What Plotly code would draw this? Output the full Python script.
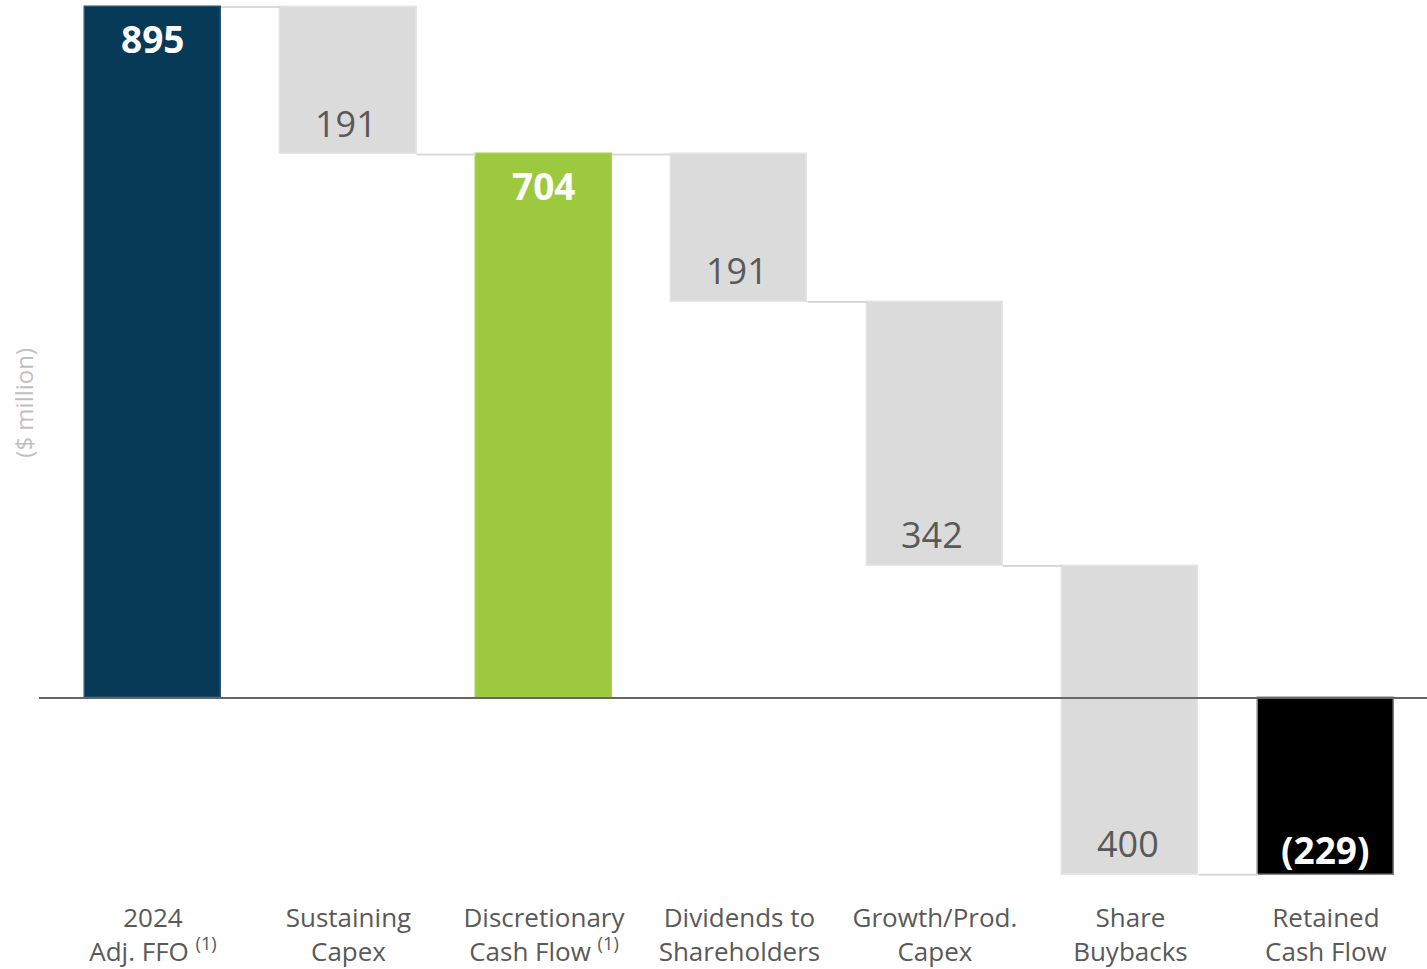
import plotly.graph_objects as go

categories = [
    "2024<br>Adj. FFO <sup>(1)</sup>",
    "Sustaining<br>Capex",
    "Discretionary<br>Cash Flow <sup>(1)</sup>",
    "Dividends to<br>Shareholders",
    "Growth/Prod.<br>Capex",
    "Share<br>Buybacks",
    "Retained<br>Cash Flow",
]
values = [895, -191, 704, -191, -342, -400, -229]
kinds = ["absolute", "relative", "total", "relative", "relative", "relative", "total"]
labels = ["895", "191", "704", "191", "342", "400", "(229)"]
colors = ["#073A57", "#DCDBDC", "#9DC93E", "#DCDBDC", "#DCDBDC", "#DCDBDC", "#000000"]
outline = ["#2A5470", "#E6E5E6", "#A7CF52", "#E6E5E6", "#E6E5E6", "#E6E5E6", "#7F7F7F"]

# compute waterfall geometry from data
bases, heights, ends = [], [], []
running = 0
for v, k in zip(values, kinds):
    if k in ("absolute", "total"):
        lo, hi = min(0, v), max(0, v)
        running = v
    else:
        start = running
        running = running + v
        lo, hi = min(start, running), max(start, running)
    bases.append(lo)
    heights.append(hi - lo)
    ends.append(running)

xs = list(range(len(categories)))
bw = 0.696

fig = go.Figure()
fig.add_trace(go.Bar(
    x=xs, y=heights, base=bases, width=bw,
    marker=dict(color=colors, line=dict(color=outline, width=1.5)),
    hoverinfo="skip", showlegend=False,
))

# connectors
for i in range(len(xs) - 1):
    lvl = ends[i]
    fig.add_trace(go.Scatter(
        x=[xs[i] + bw / 2, xs[i + 1] - bw / 2], y=[lvl, lvl], mode="lines",
        line=dict(color="#D9D9D9", width=2), hoverinfo="skip", showlegend=False,
    ))

# labels
for i, (v, k, t) in enumerate(zip(values, kinds, labels)):
    if k in ("absolute", "total"):
        if v >= 0:
            y, ys = bases[i] + heights[i], -31
        else:
            y, ys = bases[i], 25
        fig.add_annotation(x=xs[i], y=y, yshift=ys, text="<b>%s</b>" % t, showarrow=False,
                           font=dict(family="Open Sans", size=37, color="#FFFFFF"),
                           yanchor="middle")
    else:
        fig.add_annotation(x=xs[i] - 0.015, y=bases[i], yshift=31, text=t, showarrow=False,
                           font=dict(family="Open Sans", size=36, color="#595959"),
                           yanchor="middle")

# zero line on top
fig.add_shape(type="line", xref="paper", x0=0, x1=1, yref="y", y0=0, y1=0,
              line=dict(color="#666666", width=2), layer="above")

fig.add_annotation(xref="paper", yref="paper", x=0, y=0.545, xshift=-15, text="($ million)",
                   textangle=-90, showarrow=False, xanchor="center", yanchor="middle",
                   font=dict(family="Open Sans", size=24, color="#BFBFBF"))

fig.update_layout(
    width=1427, height=969,
    margin=dict(l=39, r=0, t=0, b=84),
    paper_bgcolor="white", plot_bgcolor="white",
    bargap=0,
    xaxis=dict(range=[-0.583, 6.517], tickvals=xs, ticktext=categories, showgrid=False,
               zeroline=False, showline=False, ticks="", ticklabelstandoff=15,
               tickfont=dict(family="Open Sans", size=26, color="#595959")),
    yaxis=dict(range=[-242.2, 904.1], showticklabels=False, showgrid=False, zeroline=False,
               showline=False, ticks=""),
)

fig.write_html("out.html", config={"displayModeBar": False},
               post_script="document.body.style.margin='0';")
